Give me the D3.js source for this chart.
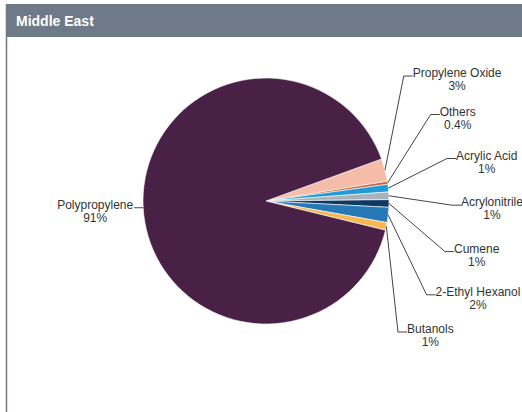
<!DOCTYPE html>
<html>
<head>
<meta charset="utf-8">
<script src="https://cdn.jsdelivr.net/npm/d3@7"></script>
<style>
  body { margin: 0; background: #fff; }
  svg { display: block; font-family: "Liberation Sans", Arial, sans-serif; }
  .title { fill: #fff; font-weight: bold; font-size: 14px; }
  .label { fill: #333; font-size: 12px; }
  .connector { fill: none; stroke: #444; stroke-width: 1; }
</style>
</head>
<body>
<div id="chart"></div>
<script>
// chart data, in drawing order (clockwise from the start angle)
const categories = ['Propylene Oxide', 'Others', 'Acrylic Acid', 'Acrylonitrile', 'Cumene', '2-Ethyl Hexanol', 'Butanols', 'Polypropylene'];
const shares = [3, 0.4, 1, 1, 1, 2, 1, 91];
const colors = ['#f5bca9', '#c9683d', '#1f9bd7', '#a8b2bc', '#0d3963', '#2778b6', '#f9b654', '#4a2146'];
const title = 'Middle East';

const width = 522;
const height = 412;
const cx = 266;
const cy = 201;
const radius = 123;
const deg = Math.PI / 180;

const svg = d3.select('#chart')
  .append('svg')
  .attr('width', width)
  .attr('height', height);

// panel frame + header bar
svg.append('line')
  .attr('x1', 6.5).attr('x2', 6.5)
  .attr('y1', 4).attr('y2', height)
  .attr('stroke', '#6e7a87')
  .attr('stroke-width', 1.5);

svg.append('rect')
  .attr('x', 6)
  .attr('y', 4)
  .attr('width', width - 6)
  .attr('height', 33)
  .attr('fill', '#6e7a87');

svg.append('text')
  .attr('class', 'title')
  .attr('x', 16)
  .attr('y', 26)
  .text(title);

const data = categories.map((name, i) => ({ name, value: shares[i], color: colors[i] }));

const start = 70 * deg;
const pie = d3.pie()
  .sort(null)
  .value(d => d.value)
  .startAngle(start)
  .endAngle(start + 2 * Math.PI);

const arcs = pie(data);

const arc = d3.arc()
  .innerRadius(0)
  .outerRadius(radius);

const chart = svg.append('g')
  .attr('transform', `translate(${cx}, ${cy})`);

chart.selectAll('.slice')
  .data(arcs)
  .enter()
  .append('path')
    .attr('class', 'slice')
    .attr('d', arc)
    .attr('fill', d => d.data.color)
    .attr('stroke', '#fff')
    .attr('stroke-width', 0.6);

// label placement: spread the crowded right-hand labels around their mean angle
const norm = a => ((a % (2 * Math.PI)) + 2 * Math.PI) % (2 * Math.PI);
arcs.forEach(d => {
  d.mid = norm((d.startAngle + d.endAngle) / 2);
  d.right = d.mid < Math.PI;
});
const rightArcs = arcs.filter(d => d.right);
const centre = d3.mean(rightArcs, d => d.mid) + 3 * deg;
const spacing = 14.5 * deg;
rightArcs.forEach((d, i) => {
  d.labelAngle = centre + (i - (rightArcs.length - 1) / 2) * spacing;
});

const bendRadius = 186;
const tail = 9;

arcs.forEach(d => {
  const px = radius * Math.sin(d.mid);
  const py = -radius * Math.cos(d.mid);
  let bx;
  let by;
  if (d.right) {
    bx = bendRadius * Math.sin(d.labelAngle);
    by = -bendRadius * Math.cos(d.labelAngle);
  } else {
    bx = px;
    by = py;
  }
  const ex = d.right ? bx + tail : bx - tail;
  d.points = [[px, py], [bx, by], [ex, by]];
  d.ex = ex;
  d.ey = by;
});

chart.selectAll('.connector')
  .data(arcs)
  .enter()
  .append('path')
    .attr('class', 'connector')
    .attr('d', d => d3.line()(d.points));

const labels = chart.selectAll('.label')
  .data(arcs)
  .enter()
  .append('text')
    .attr('class', 'label')
    .attr('text-anchor', 'middle');

labels.append('tspan')
  .attr('class', 'name')
  .text(d => d.data.name);

labels.append('tspan')
  .attr('class', 'pct')
  .text(d => `${d.data.value}%`);

labels.each(function place(d) {
  const node = d3.select(this);
  const w = node.select('.name').node().getComputedTextLength();
  const x = d.right ? d.ex + w / 2 : d.ex - 1 - w / 2;
  node.select('.name').attr('x', x).attr('y', d.ey + 1);
  node.select('.pct').attr('x', x).attr('y', d.ey + 14);
});
</script>
</body>
</html>
